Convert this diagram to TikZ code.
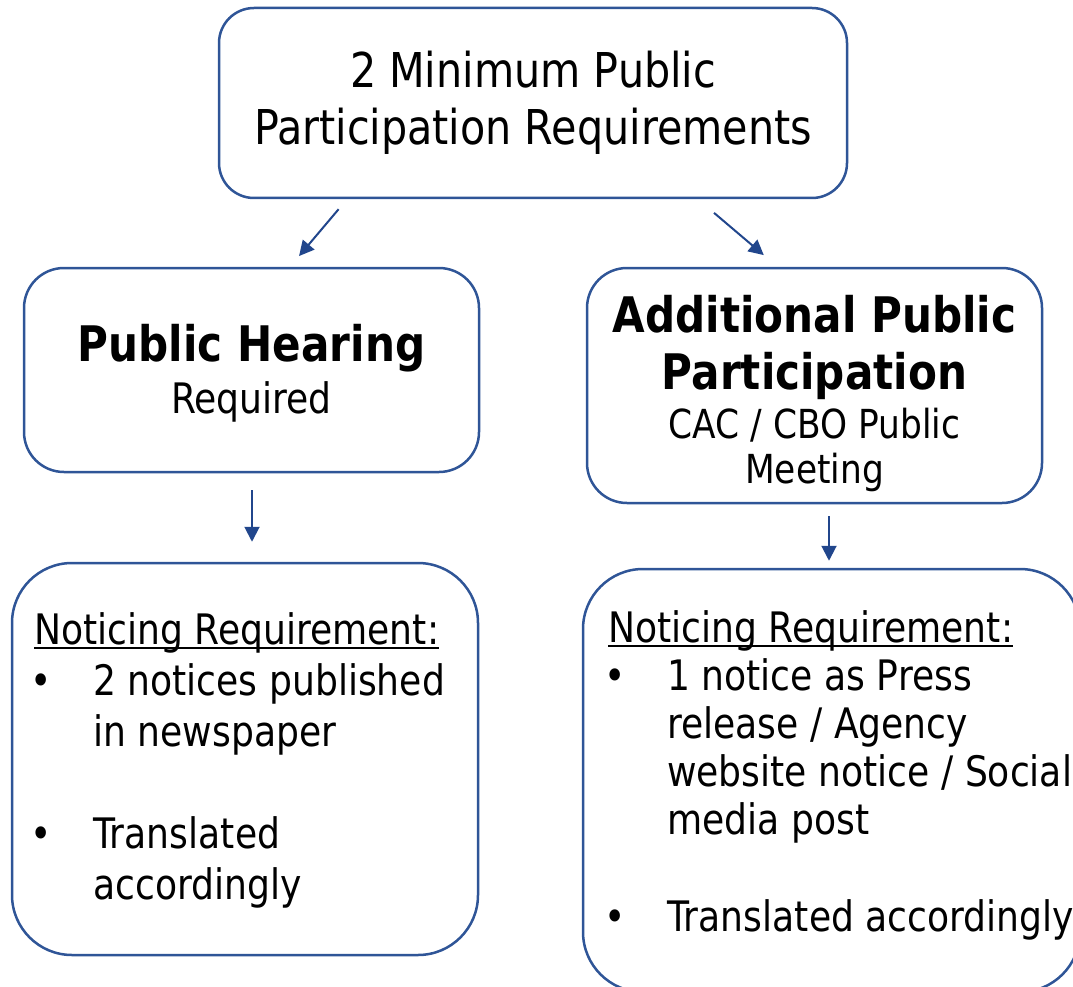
\documentclass[tikz,border=0pt]{standalone}
\usepackage{fontspec}
\setmainfont[FakeStretch=0.86]{DejaVu Sans}
\usetikzlibrary{arrows.meta, positioning, calc}
\definecolor{frameblue}{RGB}{47,85,151}
\definecolor{arrowblue}{RGB}{33,70,140}

\newcommand{\itm}{\makebox[59pt][l]{\hspace{-4pt}\textbullet}}
\newcommand{\ind}{\hspace*{59pt}}
\newcommand{\ulbox}[1]{\setbox0\hbox{#1}\rlap{\rule[-5pt]{\wd0}{2pt}}\box0}
\newcommand{\headfont}{\bfseries\fontsize{49}{49}\selectfont}

\tikzset{
  box/.style={draw=frameblue, line width=2.5pt, rounded corners=#1, fill=white, inner sep=0pt, align=center},
  box/.default=35pt,
  arr/.style={draw=arrowblue, line width=2pt, -{Triangle[length=15pt,width=15pt]}},
  listtxt/.style={anchor=north west, inner sep=0pt, align=left}
}

\begin{document}
\begin{tikzpicture}[x=1pt, y=-1pt]
\useasboundingbox (0,0) rectangle (1073,987);
\clip (0,0) rectangle (1073,987);

% top box
\node[box, minimum width=628pt, minimum height=190pt, font=\fontsize{48}{57}\selectfont] (top) at (533,103) {2 Minimum Public\\Participation Requirements};

% middle boxes
\node[box=40pt, minimum width=455pt, minimum height=204pt, font=\fontsize{42}{52}\selectfont] (hearing) at (251.5,370) {\rule{0pt}{44pt}{\headfont Public Hearing}\\Required};
\node[box=40pt, minimum width=455pt, minimum height=235pt, font=\fontsize{40}{45}\selectfont] (meet) at (814.5,385.5) {\rule{0pt}{54pt}{\headfont Additional Public}\\[12pt]{\headfont Participation}\\[4pt]CAC / CBO Public\\Meeting};

% bottom boxes
\node[box=60pt, minimum width=466pt, minimum height=392pt] (notice1) at (245,759) {};
\node[listtxt, font=\fontsize{42}{51}\selectfont] (list1) at (34,612) {\ulbox{Noticing Requirement:}\\
\itm 2 notices published\\
\ind in newspaper\\[51pt]
\itm Translated\\
\ind accordingly};
\node[box=60pt, minimum width=497pt, minimum height=423pt] (notice2) at (831.5,780.5) {};
\node[listtxt, font=\fontsize{42}{48}\selectfont] (list2) at (608,610) {\ulbox{Noticing Requirement:}\\
\itm 1 notice as Press\\
\ind release / Agency\\
\ind website notice / Social\\
\ind media post\\[49pt]
\itm Translated accordingly};

% arrows
\draw[arr, shorten <=13pt, shorten >=14pt] ([xshift=-186pt]top.south) -- ([xshift=38.5pt]hearing.north);
\draw[arr, shorten <=21pt, shorten >=18pt] ([xshift=165pt]top.south) -- ([xshift=-37pt]meet.north);
\draw[arr, shorten <=17pt, shorten >=20pt] ([xshift=0.5pt]hearing.south) -- ([xshift=0.5pt]hearing.south |- notice1.north);
\draw[arr, shorten <=12pt, shorten >=7pt] ([xshift=14.5pt]meet.south) -- ([xshift=14.5pt]meet.south |- notice2.north);
\end{tikzpicture}
\end{document}
